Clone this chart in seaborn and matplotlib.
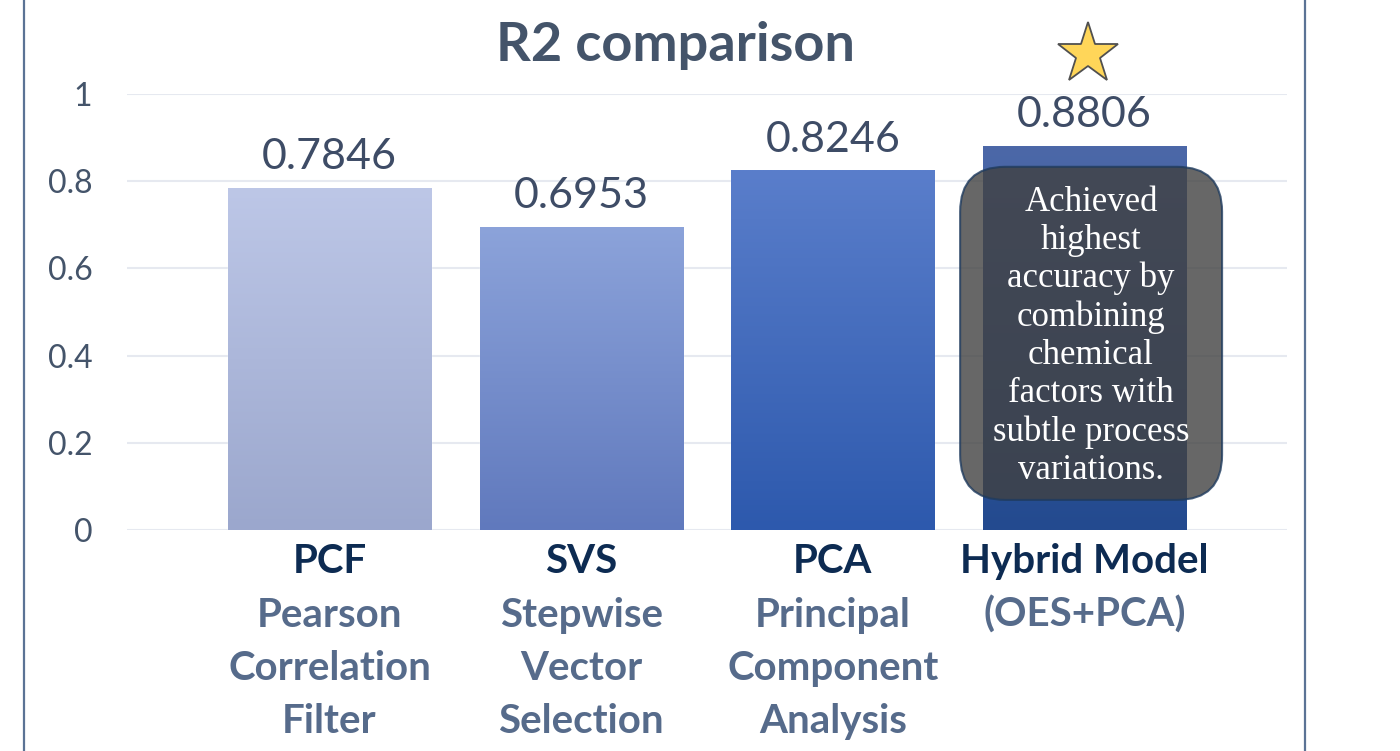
import numpy as np
import pandas as pd
import matplotlib
matplotlib.use('Agg')
import matplotlib.pyplot as plt
import seaborn as sns
from matplotlib.patches import FancyBboxPatch
from matplotlib.lines import Line2D
from matplotlib.colors import LinearSegmentedColormap

# podaci
abbrevs = ['PCF', 'SVS', 'PCA', 'Hybrid Model']
descriptions = ['Pearson\nCorrelation\nFilter', 'Stepwise\nVector\nSelection',
                'Principal\nComponent\nAnalysis', '(OES+PCA)']
r2_values = [0.7846, 0.6953, 0.8246, 0.8806]
value_labels = ['0.7846', '0.6953', '0.8246', '0.8806']
y_ticks = [0, 0.2, 0.4, 0.6, 0.8, 1]
y_tick_labels = ['0', '0.2', '0.4', '0.6', '0.8', '1']
note = 'Achieved\nhighest\naccuracy by\ncombining\nchemical\nfactors with\nsubtle process\nvariations.'

top_colors = ['#BDC7E7', '#8CA3DA', '#5A7ECB', '#4C68A8']
bottom_colors = ['#9BA7CD', '#6079BD', '#2D59AD', '#234A8F']

sns.set_theme(style='white')
plt.rcParams['font.family'] = ['Lato', 'DejaVu Sans']

df = pd.DataFrame({'model': abbrevs, 'r2': r2_values})

fig = plt.figure(figsize=(14, 7.51), dpi=100)
ax = fig.add_axes([127/1400, 1 - 530/751, 1160/1400, 436/751])

sns.barplot(data=df, x='model', y='r2', hue='model', palette=bottom_colors,
            legend=False, width=0.807, ax=ax, zorder=2)

# gradijent na stupcima
grad = np.linspace(0, 1, 256).reshape(-1, 1)
for p, top, bot in zip(ax.patches, top_colors, bottom_colors):
    x0, w, h = p.get_x(), p.get_width(), p.get_height()
    cmap = LinearSegmentedColormap.from_list('g', [bot, top])
    im = ax.imshow(grad, cmap=cmap, aspect='auto', origin='lower',
                   extent=(x0, x0 + w, 0, h), zorder=2.5)
    im.set_clip_path(p)

ax.set_xlim(-0.805, 3.805)
ax.set_ylim(0, 1)
ax.set_yticks(y_ticks)
ax.set_yticklabels(y_tick_labels)
ax.tick_params(axis='y', labelsize=23, colors='#44546A', length=0, pad=25)
ax.set_xticks([])
ax.set_xlabel('')
ax.set_ylabel('')
ax.grid(axis='y', color='#E6E9F0', lw=1.5)
ax.set_axisbelow(True)
for s in ax.spines.values():
    s.set_visible(False)

# vrijednosti iznad stupaca
for i, (v, lab) in enumerate(zip(r2_values, value_labels)):
    ax.annotate(lab, (i, v), xytext=(0, 13.5), textcoords='offset points',
                ha='center', va='baseline', fontsize=31, color='#3E4C66')

# oznake ispod osi
for i, (ab, desc) in enumerate(zip(abbrevs, descriptions)):
    ax.annotate(ab, (i, 0), xycoords=('data', 'axes fraction'),
                xytext=(0, -43), textcoords='offset pixels', ha='center',
                va='baseline', fontsize=29, fontweight='bold', color='#0D2B52')
    for j, line in enumerate(desc.split('\n')):
        ax.annotate(line, (i, 0), xycoords=('data', 'axes fraction'),
                    xytext=(0, -97 - 53 * j), textcoords='offset pixels',
                    ha='center', va='baseline', fontsize=29,
                    fontweight='bold', color='#566B8B')

# zvijezda
ax.plot([3.015], [1.091], marker='*', markersize=46, markerfacecolor='#FFD659',
        markeredgecolor='#505050', markeredgewidth=1.3, clip_on=False,
        zorder=5)

# okvir s komentarom
box = FancyBboxPatch((2.506, 0.069), 1.041, 0.764,
                     boxstyle='round,pad=0,rounding_size=0.179',
                     mutation_aspect=251.6/436, facecolor='#414141',
                     alpha=0.8, edgecolor='#1F3A5F', lw=1.5, zorder=4,
                     clip_on=False)
ax.add_patch(box)
box.set_edgecolor((0.12, 0.23, 0.37, 1))
for j, line in enumerate(note.split('\n')):
    ax.annotate(line, (3.026, 0.833), xytext=(0, -44 - 38.3 * j),
                textcoords='offset pixels', ha='center', va='baseline',
                fontsize=25, color='white', family='Liberation Serif',
                zorder=6)

fig.text(675/1400, 1 - 46/751, 'R2 comparison', ha='center', va='center',
         fontsize=39, fontweight='bold', color='#44546A')

for xp in [24, 1305]:
    fig.add_artist(Line2D([xp/1400, xp/1400], [0, 1],
                          transform=fig.transFigure, color='#5B7395', lw=1.6))

fig.savefig('out.png', dpi=100)
